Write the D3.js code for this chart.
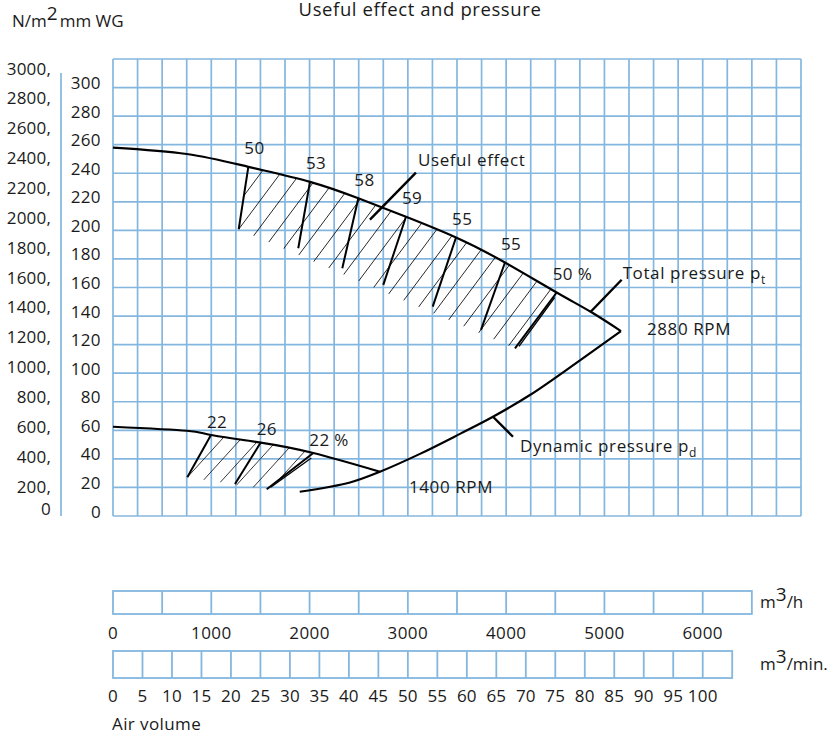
<!DOCTYPE html>
<html><head><meta charset="utf-8">
<script src="https://cdn.jsdelivr.net/npm/d3@7"></script>
<style>
body{margin:0;background:#fff;}
svg text{font-family:"Open Sans",sans-serif;fill:#1a1a1a;}
</style></head><body>
<svg id="c" width="828" height="735"></svg>
<script>
// ---------- data ----------
const flowTicksH   = [0, 1000, 2000, 3000, 4000, 5000, 6000];           // m3/h labels
const flowTicksMin = [0,5,10,15,20,25,30,35,40,45,50,55,60,65,70,75,80,85,90,95,100]; // m3/min labels
const mmTicks      = [0,20,40,60,80,100,120,140,160,180,200,220,240,260,280,300];     // mm WG
const nmTicks      = [0,200,400,600,800,1000,1200,1400,1600,1800,2000,2200,2400,2600,2800,3000]; // N/m2

// total pressure, 2880 RPM (air volume m3/h, pressure mm WG)
const q2880  = [0, 750, 1377, 2004, 2496, 2981, 3490, 3988, 4514, 4860, 5168];
const pt2880 = [258, 253.5, 244.5, 234, 222.5, 209.5, 195, 177.5, 156.5, 143, 129.5];
// total pressure, 1400 RPM
const q1400  = [0, 750, 997, 1503, 2038, 2716];
const pt1400 = [62.5, 59.7, 56.7, 51.4, 44.1, 31];
// dynamic pressure
const qDyn = [1900, 2411, 2716, 3123, 3530, 3866, 4242, 4751, 5168];
const pDyn = [17, 23.5, 31, 43.5, 57.5, 69.5, 84.7, 109, 129.5];

// useful effect (efficiency %) markers
const eff2880     = [50, 53, 58, 59, 55, 55, 50];
const effQ2880    = [1377, 2004, 2496, 2981, 3490, 3988, 4514];
const effLowQ2880 = [1279, 1885, 2333, 2750, 3253, 3744, 4090];
const effLowP2880 = [200.8, 187.5, 173.5, 161.8, 146.6, 130.3, 117.4];
const eff1400     = [22, 26, 22];
const effQ1400    = [997, 1503, 2038];
const effLowQ1400 = [756, 1241, 1564];
const effLowP1400 = [27.1, 22.4, 18.7];

// ---------- drawing ----------
const svg = d3.select("#c");
const BLUE = "#84b7df";
const FS = 17;

const x = d3.scaleLinear().domain([0, 7000]).range([113, 801]);
const y = d3.scaleLinear().domain([0, 320]).range([516, 59]);
const yN = d3.scaleLinear().domain([0, 200, 3000]).range([508, 486, 68]);
const xMin = d3.scaleLinear().domain([0, 105]).range([x(0), x(6300)]);

// grid
const gGrid = svg.append("g").attr("stroke", BLUE).attr("stroke-width", 1.7);
gGrid.selectAll("line.v").data(d3.range(0, 7001, 250)).join("line")
  .attr("x1", d => x(d)).attr("x2", d => x(d)).attr("y1", y(0)).attr("y2", y(320));
gGrid.selectAll("line.h").data(d3.range(0, 321, 20)).join("line")
  .attr("class","h")
  .attr("y1", d => y(d)).attr("y2", d => y(d)).attr("x1", x(0)).attr("x2", x(7000));

// separator line between left scales
svg.append("line").attr("x1", 61).attr("x2", 61).attr("y1", 73).attr("y2", y(0))
  .attr("stroke", BLUE).attr("stroke-width", 1.7);

// left labels
svg.append("g").selectAll("text").data(mmTicks).join("text")
  .attr("x", 101).attr("y", d => y(d) - 5).attr("text-anchor", "end")
  .attr("dominant-baseline", "central").attr("font-size", FS).attr("letter-spacing", 0.4)
  .text(d => d);
svg.append("g").selectAll("text").data(nmTicks).join("text")
  .attr("x", 51).attr("y", d => yN(d)).attr("text-anchor", "end")
  .attr("dominant-baseline", "central").attr("font-size", FS).attr("letter-spacing", 0.2)
  .text(d => d === 0 ? "0" : d + ",");

// header & title
const hdr = svg.append("text").attr("x", 12).attr("y", 27).attr("font-size", FS);
hdr.append("tspan").text("N/m");
hdr.append("tspan").attr("dy", -7).attr("font-size", 19).text("2");
hdr.append("tspan").attr("dy", 7).attr("dx", 2).text("mm WG");
svg.append("text").attr("x", 420).attr("y", 16).attr("text-anchor", "middle")
  .attr("font-size", 18.5).attr("letter-spacing", 0.6).text("Useful effect and pressure");

// line generators
const line = d3.line().x(d => x(d[0])).y(d => y(d[1])).curve(d3.curveNatural);
const lineDyn = d3.line().x(d => x(d[0])).y(d => y(d[1])).curve(d3.curveCatmullRom.alpha(0.5));
const pts2880 = q2880.map((q, i) => [q, pt2880[i]]);
const pts1400 = q1400.map((q, i) => [q, pt1400[i]]);
const ptsDyn = qDyn.map((q, i) => [q, pDyn[i]]);
const f2880 = d3.scaleLinear().domain(q2880).range(pt2880);
const f1400 = d3.scaleLinear().domain(q1400).range(pt1400);
const fDyn = d3.scaleLinear().domain(qDyn).range(pDyn);

const defs = svg.append("defs");

function hatch(id, pts, effQ, fTop, lowQ, lowP, slope, step, width, color) {
  const n = effQ.length;
  const t1 = [x(effQ[0]), y(fTop(effQ[0]))], tN = [x(effQ[n-1]), y(fTop(effQ[n-1]))];
  const l1 = [x(lowQ[0]), y(lowP[0])], lN = [x(lowQ[n-1]), y(lowP[n-1])];
  const last = pts[pts.length - 1];
  defs.append("clipPath").attr("id", id + "A").append("path")
    .attr("d", line(pts) + `L${x(last[0])},${y(0)}L${x(0)},${y(0)}Z`);
  defs.append("clipPath").attr("id", id + "B").append("path")
    .attr("d", `M${l1}L${lN}L${tN}L${tN[0]},${tN[1]-80}L${t1[0]},${t1[1]-80}L${t1}Z`);
  const g = svg.append("g").attr("clip-path", `url(#${id}A)`)
    .append("g").attr("clip-path", `url(#${id}B)`);
  const bs = (lN[1] - l1[1]) / (lN[0] - l1[0]);
  const starts = d3.range(-8, Math.ceil((lN[0] - l1[0]) / step) + 2).map(i => l1[0] + i * step);
  g.selectAll("line").data(starts).join("line")
    .attr("x1", d => d - 10).attr("y1", d => l1[1] + bs * (d - l1[0]) + 10 * slope)
    .attr("x2", d => d + 120).attr("y2", d => l1[1] + bs * (d - l1[0]) - 120 * slope)
    .attr("stroke", color).attr("stroke-width", width);
}
hatch("h28", pts2880, effQ2880, f2880, effLowQ2880, effLowP2880, 1.34, 15, 0.9, "#111");
hatch("h14", pts1400, effQ1400, f1400, effLowQ1400, effLowP1400, 1.1, 16.5, 0.9, "#222");

// curves
const gC = svg.append("g").attr("fill", "none").attr("stroke", "#000").attr("stroke-width", 2.2);
gC.append("path").attr("d", line(pts2880));
gC.append("path").attr("d", line(pts1400));
gC.append("path").attr("d", lineDyn(ptsDyn));

// efficiency markers
function markers(effs, effQ, fTop, lowQ, lowP, labDy, lastDouble) {
  const g = svg.append("g");
  effQ.forEach((q, i) => {
    const tx = x(q), ty = y(fTop(q)), bx = x(lowQ[i]), by = y(lowP[i]);
    g.append("line").attr("x1", tx).attr("y1", ty).attr("x2", bx).attr("y2", by)
      .attr("stroke", "#000").attr("stroke-width", 2);
    if (lastDouble && i === effQ.length - 1) {
      g.append("line").attr("x1", tx - 2).attr("y1", ty + 5).attr("x2", bx + 4).attr("y2", by - 2)
        .attr("stroke", "#000").attr("stroke-width", 1.3);
    }
    g.append("text").attr("x", tx - 4).attr("y", ty + labDy).attr("dominant-baseline", "central")
      .attr("font-size", FS).attr("letter-spacing", 0.4)
      .text(effs[i] + (i === effQ.length - 1 ? " %" : ""));
  });
}
markers(eff2880, effQ2880, f2880, effLowQ2880, effLowP2880, -19, true);
markers(eff1400, effQ1400, f1400, effLowQ1400, effLowP1400, -14, true);

// annotations
const ann = svg.append("g");
function leader(px, py, dx1, dy1, dx2, dy2) {
  ann.append("line").attr("x1", px + dx1).attr("y1", py + dy1).attr("x2", px + dx2).attr("y2", py + dy2)
    .attr("stroke", "#000").attr("stroke-width", 2.4);
  return [px + dx2, py + dy2];
}
const ue = leader(x(2716), y(f2880(2716)), -10, 13, 36, -34);
ann.append("text").attr("x", ue[0] + 2).attr("y", ue[1] - 7).attr("font-size", FS).attr("letter-spacing", 0.6).text("Useful effect");
const tp = leader(x(4860), y(f2880(4860)), 0, 0, 31, -32);
const tpt = ann.append("text").attr("x", tp[0] + 1).attr("y", tp[1] - 1).attr("font-size", FS).attr("letter-spacing", 0.6);
tpt.append("tspan").text("Total pressure p");
tpt.append("tspan").attr("dy", 5).attr("font-size", 12).text("t");
const dp = leader(x(3866), y(fDyn(3866)), 0, 0, 20, 20);
const dpt = ann.append("text").attr("x", dp[0] + 7).attr("y", dp[1] + 15).attr("font-size", FS).attr("letter-spacing", 0.6);
dpt.append("tspan").text("Dynamic pressure p");
dpt.append("tspan").attr("dy", 5).attr("font-size", 12).text("d");
ann.append("text").attr("x", x(5168) + 26).attr("y", y(129.5) + 4).attr("font-size", FS).attr("letter-spacing", 0.6).text("2880 RPM");
ann.append("text").attr("x", x(2716) + 29).attr("y", y(31) + 21).attr("font-size", FS).attr("letter-spacing", 0.6).text("1400 RPM");

// bottom scales
function scaleBox(x0, x1, y0, y1, divs) {
  const g = svg.append("g").attr("stroke", BLUE).attr("stroke-width", 1.8).attr("fill", "none");
  g.append("rect").attr("x", x0).attr("y", y0).attr("width", x1 - x0).attr("height", y1 - y0);
  g.selectAll("line").data(divs).join("line")
    .attr("x1", d => d).attr("x2", d => d).attr("y1", y0).attr("y2", y1);
}
scaleBox(x(0), x(6500), 591, 614, d3.range(500, 6500, 500).map(v => x(v)));
scaleBox(xMin(0), xMin(105), 651, 678, d3.range(5, 105, 5).map(v => xMin(v)));
svg.append("g").selectAll("text").data(flowTicksH).join("text")
  .attr("x", d => x(d)).attr("y", 632).attr("text-anchor", "middle").attr("dominant-baseline", "central")
  .attr("font-size", FS).attr("letter-spacing", 0.4).text(d => d);
svg.append("g").selectAll("text").data(flowTicksMin).join("text")
  .attr("x", d => xMin(d)).attr("y", 695).attr("text-anchor", "middle").attr("dominant-baseline", "central")
  .attr("font-size", FS).attr("letter-spacing", 0.2).text(d => d);
const u1 = svg.append("text").attr("x", 760).attr("y", 608).attr("font-size", FS);
u1.append("tspan").text("m");
u1.append("tspan").attr("dy", -7).attr("font-size", 19).text("3");
u1.append("tspan").attr("dy", 7).text("/h");
const u2 = svg.append("text").attr("x", 760).attr("y", 670).attr("font-size", FS);
u2.append("tspan").text("m");
u2.append("tspan").attr("dy", -7).attr("font-size", 19).text("3");
u2.append("tspan").attr("dy", 7).text("/min.");
svg.append("text").attr("x", 112).attr("y", 730).attr("font-size", FS).attr("letter-spacing", 0.4).text("Air volume");
</script>
</body></html>
